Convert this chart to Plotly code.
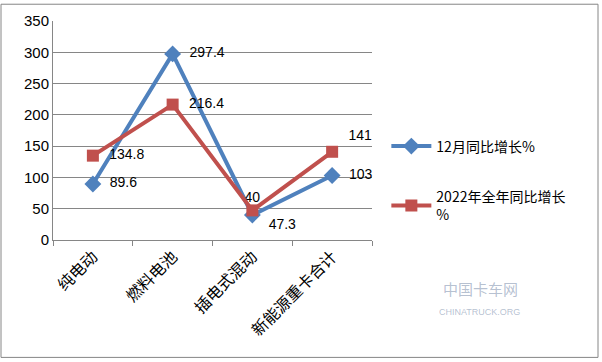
import plotly.graph_objects as go

categories = ["纯电动", "燃料电池", "插电式混动", "新能源重卡合计"]
dec_growth = [89.6, 297.4, 40, 103]
year_growth = [134.8, 216.4, 47.3, 141]
dec_name = "12月同比增长%"
year_name = "2022年全年同比增长<br>%"
y_ticks = [0, 50, 100, 150, 200, 250, 300, 350]

dec_pos = ["middle right", "middle right", "top center", "middle right"]
year_pos = ["middle right", "middle right", "bottom right", "top right"]

PAD = "\u00a0\u00a0"
num_font = dict(family="Liberation Sans, Arial", size=14, color="#000000")
cjk = "Noto Sans CJK SC"

fig = go.Figure()
fig.add_trace(go.Scatter(
    x=categories, y=dec_growth, name=dec_name, mode="lines+markers+text",
    line=dict(color="#4F81BD", width=4),
    marker=dict(symbol="diamond", size=13, color="#4F81BD"),
    text=[(PAD if p.endswith("right") else "") + str(v) for v, p in zip(dec_growth, dec_pos)],
    textposition=dec_pos,
    textfont=num_font, legendgroup="a", cliponaxis=False,
))
fig.add_trace(go.Scatter(
    x=categories, y=year_growth, name=year_name, mode="lines+markers+text",
    line=dict(color="#C0504D", width=4),
    marker=dict(symbol="square", size=12, color="#C0504D"),
    text=[(PAD if p.endswith("right") else "") + str(v) for v, p in zip(year_growth, year_pos)],
    textposition=year_pos,
    textfont=num_font, legendgroup="b", cliponaxis=False,
))

fig.update_layout(
    width=602, height=362,
    margin=dict(l=53, r=230, t=18, b=122),
    paper_bgcolor="white", plot_bgcolor="white",
    showlegend=True,
    legend=dict(x=1.045, y=0.50, xanchor="left", yanchor="top",
                font=dict(family=cjk, size=14, color="#000000"),
                traceorder="grouped", tracegroupgap=29, itemwidth=40,
                bgcolor="rgba(0,0,0,0)"),
    xaxis=dict(
        type="category", showline=True, linecolor="#868686", linewidth=1,
        showgrid=False, ticks="outside", tickson="boundaries", ticklen=5,
        tickcolor="#868686", tickangle=-45,
        tickfont=dict(family=cjk, size=16, color="#000000"),
        range=[-0.5, 3.5], automargin=False,
    ),
    yaxis=dict(
        range=[0, 350], tickvals=y_ticks, showgrid=True, gridcolor="#868686",
        gridwidth=1, showline=True, linecolor="#868686", linewidth=1,
        zeroline=False, ticks="",
        tickfont=dict(family="Liberation Sans, Arial", size=15, color="#000000"),
    ),
    shapes=[dict(type="rect", xref="paper", yref="paper",
                 x0=-52/319, x1=545/319, y0=-119/222, y1=239/222,
                 line=dict(color="#868686", width=1))],
    annotations=[
        dict(text="中国卡车网", xref="paper", yref="paper",
             x=(520-53)/319, y=(240-302)/222, showarrow=False,
             font=dict(family=cjk, size=15, color="rgba(120,140,170,0.55)")),
        dict(text="CHINATRUCK.ORG", xref="paper", yref="paper",
             x=(522-53)/319, y=(240-320)/222, showarrow=False,
             font=dict(family="Liberation Sans", size=9, color="rgba(120,140,170,0.55)")),
    ],
)

fig.write_html("out.html", config={"displayModeBar": False},
               post_script="document.body.style.margin='0';")
